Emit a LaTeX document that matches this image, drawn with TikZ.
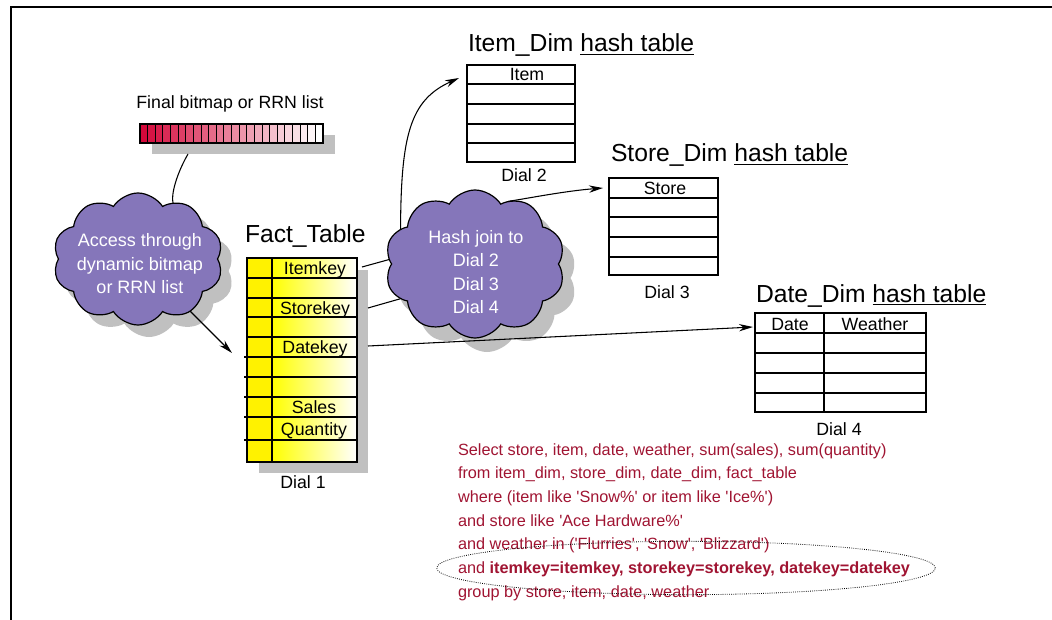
\documentclass[tikz,border=0pt]{standalone}
\usepackage{fontspec}
\setmainfont{Liberation Sans}
\usetikzlibrary{shapes.symbols,shapes.geometric,arrows.meta,calc}
\definecolor{cloudfill}{RGB}{133,118,186}
\definecolor{shadowgray}{RGB}{192,192,192}
\definecolor{sqlred}{RGB}{160,20,50}
\definecolor{bitred}{RGB}{212,8,58}
\newcommand{\q}{\textquotesingle}
\begin{document}
\begin{tikzpicture}[x=0.75pt,y=-0.75pt,
  every node/.style={inner sep=0pt, outer sep=0pt},
  lbl/.style={font=\fontsize{13.3}{16}\selectfont},
  ttl/.style={font=\fontsize{18.5}{22}\selectfont, anchor=base west},
  sql/.style={font=\fontsize{12.2}{14}\selectfont, text=sqlred, anchor=base west},
  cloudshape/.style={cloud, cloud puffs=10, cloud puff arc=115, cloud ignores aspect},
  cloudtext/.style={text=white, align=center, font=\fontsize{13.5}{17.6}\selectfont},
  boxline/.style={line width=0.9pt},
  gridline/.style={line width=0.8pt},
  conn/.style={line width=0.8pt},
  arr/.style={conn, -{Stealth[length=10.5pt, width=5.5pt]}}]
\useasboundingbox (0,0) rectangle (1052,620);

% frame
\draw[line width=1.5pt] (11,620) -- (11,7) -- (1052,7);

% final bitmap
\fill[shadowgray] (152,135) rectangle (335,154);
\foreach \i in {0,...,23}{
  \pgfmathsetmacro\xa{140+\i*183/24}
  \pgfmathsetmacro\xb{140+(\i+1)*183/24}
  \pgfmathtruncatemacro\p{100-\i*100/23}
  \draw[fill=bitred!\p!white, line width=0.6pt] (\xa,124) rectangle (\xb,143);
}
\node[draw, boxline, minimum width=137.25pt, minimum height=14.25pt, anchor=north west] (bitmap) at (140,124) {};
\coordinate (bmtail) at (188,154);
\node[lbl, anchor=base] (bmlabel) at (230,109) {Final bitmap or RRN list};

% access cloud
\node[cloudshape, fill=shadowgray, minimum width=127.5pt, minimum height=99pt] (accshadow) at (149,271) {};
\node[cloudshape, fill=cloudfill, draw=black, line width=0.9pt, minimum width=127.5pt, minimum height=99pt] (acc) at (138,259) {};
\node[cloudtext] (acctext) at (140,264) {Access through\\dynamic bitmap\\or RRN list};

% fact table
\fill[shadowgray] (259,270) rectangle (368,473);
\fill[yellow] (247,258) rectangle (272,462);
\shade[left color=yellow, middle color=yellow!75!white, right color=white] (272,258) rectangle (357,462);
\foreach \y in {278,298,317,337} \draw[gridline] (247,\y) -- (357,\y);
\foreach \y in {357,377,397,417,440} \draw[gridline] (244,\y) -- (356,\y);
\draw[gridline] (272,258) -- (272,462);
\node[draw, boxline, anchor=north west, minimum width=82.5pt, minimum height=153pt] (fact) at (247,258) {};
\node[ttl] (facttitle) at (245,243) {Fact\_Table};
\node[lbl, anchor=base] (fitem) at (315,274.5) {Itemkey};
\node[lbl, anchor=base] (fstore) at (315,314) {Storekey};
\node[lbl, anchor=base] (fdate) at (315,353.5) {Datekey};
\node[lbl, anchor=base] (fsales) at (314,413.5) {Sales};
\node[lbl, anchor=base] (fqty) at (314,435) {Quantity};
\node[lbl, anchor=base] (dial1) at (303,488) {Dial 1};

% item dimension
\node[ttl] (itemtitle) at (468,52) {Item\_Dim \underline{hash table}};
\foreach \y in {84,104,124,143} \draw[gridline] (467,\y) -- (575,\y);
\node[draw, boxline, anchor=north west, minimum width=81pt, minimum height=72.75pt] (itemtab) at (467,65) {};
\node[lbl, anchor=base] (itemhead) at (527,81) {Item};
\node[lbl, anchor=base] (dial2) at (524,182) {Dial 2};

% store dimension
\node[ttl] (storetitle) at (611,162) {Store\_Dim \underline{hash table}};
\foreach \y in {198,217,237,257} \draw[gridline] (609,\y) -- (718,\y);
\node[draw, boxline, anchor=north west, minimum width=81.75pt, minimum height=72.75pt] (storetab) at (609,178) {};
\node[lbl, anchor=base] (storehead) at (665,195) {Store};
\node[lbl, anchor=base] (dial3) at (667,298) {Dial 3};

% date dimension
\node[ttl] (datetitle) at (756,302) {Date\_Dim \underline{hash table}};
\foreach \y in {333,353,373,393} \draw[gridline] (755,\y) -- (926,\y);
\draw[gridline] (824,313) -- (824,412);
\node[draw, boxline, anchor=north west, minimum width=128.25pt, minimum height=74.25pt] (datetab) at (755,313) {};
\node[lbl, anchor=base] (datehead) at (790,330) {Date};
\node[lbl, anchor=base] (weatherhead) at (875,330) {Weather};
\node[lbl, anchor=base] (dial4) at (839,435) {Dial 4};

% hash join cloud
\node[cloudshape, fill=shadowgray, minimum width=135pt, minimum height=111pt] (hashshadow) at (487,278) {};
\node[cloudshape, fill=cloudfill, draw=black, line width=0.9pt, minimum width=135pt, minimum height=111pt] (hash) at (475,264) {};
\node[cloudtext] (hashtext) at (476,272) {Hash join to\\Dial 2\\Dial 3\\Dial 4};

% connectors
\coordinate (ik) at (362,267);
\coordinate (sk) at (368,308);
\coordinate (dk) at (368,346);
\draw[conn] (bmtail) .. controls (176,175) and (171,195) .. (acc.58);
\draw[arr] (acc.-45) -- ($(fact.north west)+(-15,95)$);
\draw[conn] (ik) -- (hash.177);
\draw[conn] (sk) -- (hash.205);
\draw[arr] (hash.155) .. controls (401,135) and (410,100) .. ($(itemtab.north west)+(-8,13)$);
\draw[arr] (hash.62) .. controls (530,198) and (565,191) .. ($(storetab.north west)+(-6,10)$);
\draw[arr] (dk) -- ($(datetab.north west)+(-2,14)$);

% query text
\node[sql] (sql1) at (458,455) {Select store, item, date, weather, sum(sales), sum(quantity)};
\node[sql] (sql2) at (458,478.7) {from item\_dim, store\_dim, date\_dim, fact\_table};
\node[sql] (sql3) at (458,502.4) {where (item like \q Snow\%\q{} or item like \q Ice\%\q)};
\node[sql] (sql4) at (458,526) {and store like \q Ace Hardware\%\q};
\node[sql] (sql5) at (458,549.8) {and weather in (\q Flurries\q, \q Snow\q, \q Blizzard\q)};
\node[sql] (sql6) at (458,573.5) {and \textbf{itemkey=itemkey, storekey=storekey, datekey=datekey}};
\node[sql] (sql7) at (458,597) {group by store, item, date, weather};
\node[draw, ellipse, densely dotted, line width=0.6pt, minimum width=374pt, minimum height=40pt] (keyoval) at (686,568) {};
\end{tikzpicture}
\end{document}
